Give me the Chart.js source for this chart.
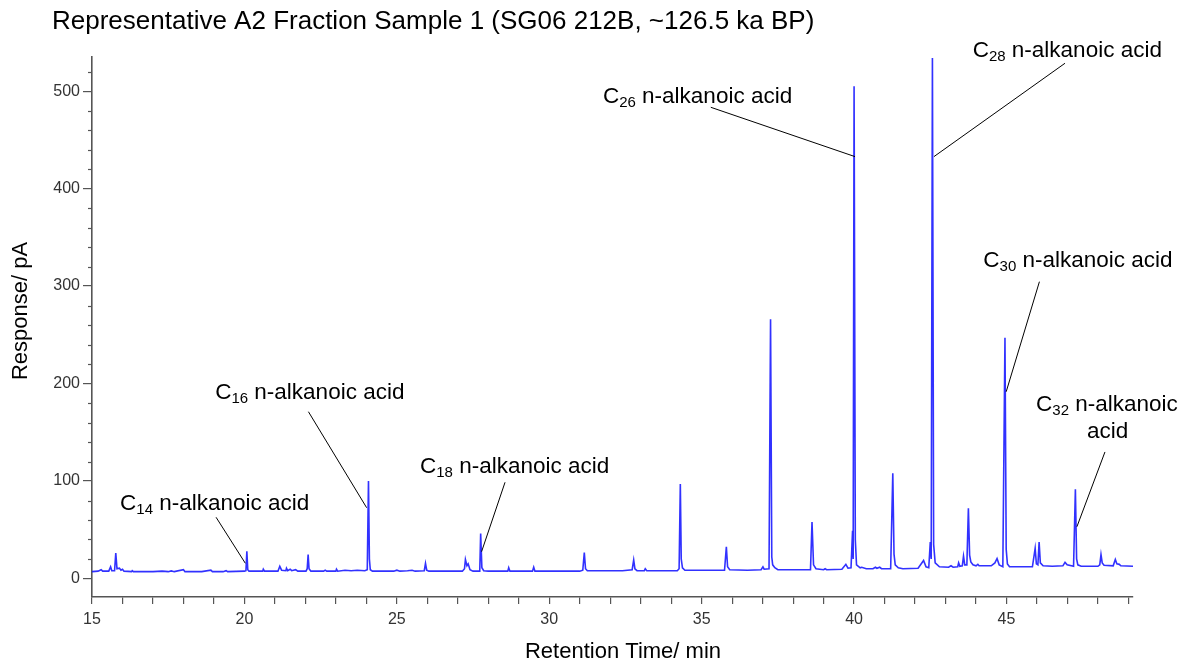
<!DOCTYPE html>
<html>
<head>
<meta charset="utf-8">
<script src="https://cdn.jsdelivr.net/npm/chart.js@4/dist/chart.umd.min.js"></script>
<style>
  html, body { margin: 0; padding: 0; background: #fff; }
  canvas { display: block; }
</style>
</head>
<body>
<canvas id="chrom" width="1192" height="666"></canvas>
<script>
// Chromatogram: retention time (min) and detector response (pA)
const retentionTime = [
  15.00, 15.20, 15.30, 15.35, 15.55, 15.61, 15.65, 15.74, 15.78, 15.82, 15.90, 15.95, 16.00, 16.05,
  16.30, 16.32, 16.36, 17.00, 17.30, 17.50, 17.60, 17.70, 18.00, 18.05, 18.60, 18.90, 18.95, 19.30,
  19.40, 19.45, 20.00, 20.05, 20.08, 20.11, 20.15, 20.60, 20.62, 20.66, 21.10, 21.16, 21.22, 21.36,
  21.38, 21.42, 21.50, 21.55, 21.68, 21.75, 22.02, 22.06, 22.09, 22.12, 22.18, 22.60, 22.65, 22.70,
  23.00, 23.02, 23.06, 23.30, 23.50, 23.70, 23.95, 24.03, 24.07, 24.10, 24.13, 24.20, 24.90, 25.00,
  25.10, 25.35, 25.50, 25.60, 25.90, 25.94, 25.98, 26.05, 27.15, 27.22, 27.25, 27.30, 27.34, 27.40,
  27.50, 27.72, 27.75, 27.79, 27.85, 28.00, 28.64, 28.67, 28.71, 29.45, 29.49, 29.53, 30.50, 31.00,
  31.10, 31.15, 31.19, 31.25, 32.40, 32.72, 32.77, 32.81, 32.88, 33.12, 33.15, 33.20, 34.20, 34.26,
  34.30, 34.33, 34.37, 34.45, 35.00, 35.75, 35.81, 35.85, 35.92, 36.50, 36.95, 37.01, 37.05, 37.21,
  37.26, 37.30, 37.33, 37.40, 37.50, 38.00, 38.57, 38.62, 38.67, 38.75, 39.00, 39.05, 39.10, 39.60,
  39.73, 39.80, 39.90, 39.95, 39.97, 40.00, 40.04, 40.08, 40.20, 40.25, 40.40, 40.62, 40.70, 40.75,
  40.84, 40.90, 41.20, 41.27, 41.31, 41.35, 41.45, 41.60, 42.10, 42.28, 42.36, 42.45, 42.50, 42.53,
  42.57, 42.61, 42.66, 42.80, 43.10, 43.18, 43.25, 43.40, 43.43, 43.47, 43.55, 43.59, 43.63, 43.70,
  43.75, 43.79, 43.83, 43.90, 44.00, 44.06, 44.10, 44.50, 44.62, 44.69, 44.76, 44.88, 44.95, 44.99,
  45.03, 45.10, 45.85, 45.94, 45.98, 46.03, 46.07, 46.11, 46.20, 46.50, 46.85, 46.92, 46.99, 47.20,
  47.26, 47.30, 47.34, 47.45, 48.00, 48.06, 48.10, 48.14, 48.20, 48.50, 48.57, 48.62, 48.70, 48.75,
  49.15
];
const response = [
  7.0, 7.5, 9.0, 7.5, 7.5, 12.0, 8.0, 8.0, 26.0, 10.0, 10.5, 8.5, 9.5, 7.5,
  7.0, 8.0, 7.0, 7.0, 7.5, 7.0, 7.8, 7.0, 9.0, 7.0, 7.0, 8.5, 7.0, 7.0,
  8.0, 7.0, 7.5, 8.0, 28.0, 9.0, 7.5, 7.5, 9.5, 7.5, 7.5, 12.5, 8.5, 8.0,
  10.5, 8.0, 9.5, 8.0, 9.0, 7.5, 7.5, 10.0, 24.5, 10.0, 7.5, 7.5, 8.5, 7.5,
  7.5, 9.5, 7.5, 8.5, 8.0, 8.5, 8.0, 9.0, 100.0, 20.0, 9.0, 7.5, 7.5, 8.5,
  7.5, 8.0, 8.5, 7.5, 8.0, 15.5, 8.5, 7.5, 7.5, 10.0, 19.5, 13.0, 15.0, 9.0,
  7.5, 7.5, 46.0, 11.0, 8.0, 7.5, 7.5, 11.0, 7.5, 7.5, 11.5, 7.5, 7.5, 7.5,
  8.5, 26.5, 10.0, 8.0, 8.0, 9.0, 19.0, 10.0, 8.0, 8.0, 10.0, 8.0, 8.0, 10.0,
  97.0, 20.0, 11.0, 8.5, 8.5, 8.5, 32.5, 12.0, 9.0, 8.5, 9.0, 12.0, 9.5, 10.0,
  266.0, 22.0, 14.0, 11.0, 9.0, 9.0, 9.0, 58.0, 14.0, 10.0, 9.0, 10.0, 9.0, 9.5,
  14.5, 10.5, 11.0, 49.0, 20.0, 505.0, 40.0, 14.0, 11.0, 11.5, 10.0, 10.0, 11.5, 10.5,
  11.5, 10.0, 10.0, 108.0, 25.0, 14.0, 11.0, 10.0, 10.5, 18.5, 12.0, 11.0, 37.5, 20.0,
  534.0, 35.0, 16.0, 12.0, 11.5, 13.0, 11.5, 12.0, 16.0, 12.5, 13.0, 23.0, 14.0, 14.0,
  72.0, 24.0, 17.0, 14.0, 13.0, 14.5, 13.0, 13.0, 16.0, 20.5, 14.0, 12.0, 247.0, 30.0,
  15.0, 12.0, 12.0, 31.0, 15.0, 14.0, 37.5, 16.0, 13.0, 12.5, 13.0, 16.5, 14.0, 12.5,
  91.5, 20.0, 14.0, 12.5, 12.5, 14.0, 24.5, 16.0, 13.5, 13.0, 19.5, 15.0, 14.5, 13.0,
  12.5
];

// Peak labels: carbon number, text anchor (time, response), leader line from -> to
const peakCarbons = ['14', '16', '18', '26', '28', '30', '32'];
const labelAnchors = [[15.92, 70.3], [19.04, 184.2], [25.76, 108.2], [31.76, 487.8], [43.89, 535], [44.24, 319.6], [45.97, 171.8]];
const leaderStart = [[19.07, 62.8], [22.10, 171.1], [28.55, 98.7], [35.30, 483.4], [46.92, 528.6], [46.08, 304.5], [48.23, 129.8]];
const leaderEnd = [[20.03, 15.6], [24.01, 72.6], [27.78, 27.5], [40.03, 432.8], [42.62, 432.8], [44.99, 191.6], [47.31, 53.1]];

const FONT = '"Liberation Sans", Arial, sans-serif';
const AXIS_COLOR = '#555';

const points = retentionTime.map((t, i) => ({ x: t, y: response[i] }));

const decorations = {
  id: 'decorations',
  afterDraw(chart) {
    const { ctx, chartArea, scales: { x, y } } = chart;
    ctx.save();

    // minor ticks on the y axis
    ctx.strokeStyle = AXIS_COLOR;
    ctx.lineWidth = 1.2;
    for (let v = 20; v <= 520; v += 20) {
      if (v % 100 === 0) continue;
      const py = Math.round(y.getPixelForValue(v)) + 0.5;
      ctx.beginPath();
      ctx.moveTo(chartArea.left - 4, py);
      ctx.lineTo(chartArea.left, py);
      ctx.stroke();
    }

    // title and axis titles
    ctx.fillStyle = '#000';
    ctx.textBaseline = 'alphabetic';
    ctx.textAlign = 'left';
    ctx.font = `26px ${FONT}`;
    ctx.fillText('Representative A2 Fraction Sample 1 (SG06 212B, ~126.5 ka BP)', 52, 29);

    ctx.font = `22px ${FONT}`;
    ctx.textAlign = 'center';
    ctx.fillText('Retention Time/ min', 623, 658);
    ctx.save();
    ctx.translate(27, 311);
    ctx.rotate(-Math.PI / 2);
    ctx.fillText('Response/ pA', 0, 0);
    ctx.restore();

    // leader lines
    ctx.strokeStyle = '#000';
    ctx.lineWidth = 1;
    peakCarbons.forEach((c, i) => {
      ctx.beginPath();
      ctx.moveTo(x.getPixelForValue(leaderStart[i][0]), y.getPixelForValue(leaderStart[i][1]));
      ctx.lineTo(x.getPixelForValue(leaderEnd[i][0]), y.getPixelForValue(leaderEnd[i][1]));
      ctx.stroke();
    });

    // peak labels: C + subscript carbon number + name
    ctx.textAlign = 'left';
    peakCarbons.forEach((c, i) => {
      let px = x.getPixelForValue(labelAnchors[i][0]);
      const py = y.getPixelForValue(labelAnchors[i][1]);
      const twoLines = c === '32';
      ctx.font = `22.5px ${FONT}`;
      ctx.fillText('C', px, py);
      px += ctx.measureText('C').width;
      ctx.font = `15px ${FONT}`;
      ctx.fillText(c, px, py + 4);
      px += ctx.measureText(c).width;
      ctx.font = `22.5px ${FONT}`;
      ctx.fillText(twoLines ? ' n-alkanoic' : ' n-alkanoic acid', px, py);
      if (twoLines) {
        ctx.textAlign = 'center';
        ctx.fillText('acid', x.getPixelForValue(48.32), y.getPixelForValue(143.8));
        ctx.textAlign = 'left';
      }
    });
    ctx.restore();
  }
};

new Chart(document.getElementById('chrom'), {
  type: 'line',
  data: {
    datasets: [{
      data: points,
      borderColor: 'rgba(20, 20, 255, 0.88)',
      borderWidth: 1.6,
      pointRadius: 0,
      tension: 0,
      fill: false,
    }],
  },
  options: {
    responsive: false,
    animation: false,
    events: [],
    layout: { padding: { left: 0, right: 59, top: 57, bottom: 0 } },
    plugins: {
      legend: { display: false },
      tooltip: { enabled: false },
    },
    scales: {
      x: {
        type: 'linear',
        min: 15,
        max: 49.15,
        afterFit: (s) => { s.height = 69; },
        border: { color: AXIS_COLOR, width: 1.6 },
        grid: { drawOnChartArea: false, drawTicks: true, tickLength: 7, color: AXIS_COLOR, lineWidth: 1.2 },
        ticks: {
          stepSize: 1,
          autoSkip: false,
          includeBounds: false,
          maxRotation: 0,
          padding: 6,
          color: '#333',
          font: { size: 16, family: FONT },
          callback: (v) => (v % 5 === 0 ? v : ''),
        },
      },
      y: {
        min: -19,
        max: 535,
        afterFit: (s) => { s.width = 92; },
        border: { color: AXIS_COLOR, width: 1.6 },
        grid: { drawOnChartArea: false, drawTicks: true, tickLength: 9, color: AXIS_COLOR, lineWidth: 1.2 },
        ticks: {
          stepSize: 100,
          includeBounds: false,
          padding: 3,
          color: '#333',
          font: { size: 16, family: FONT },
        },
      },
    },
  },
  plugins: [decorations],
});
</script>
</body>
</html>
